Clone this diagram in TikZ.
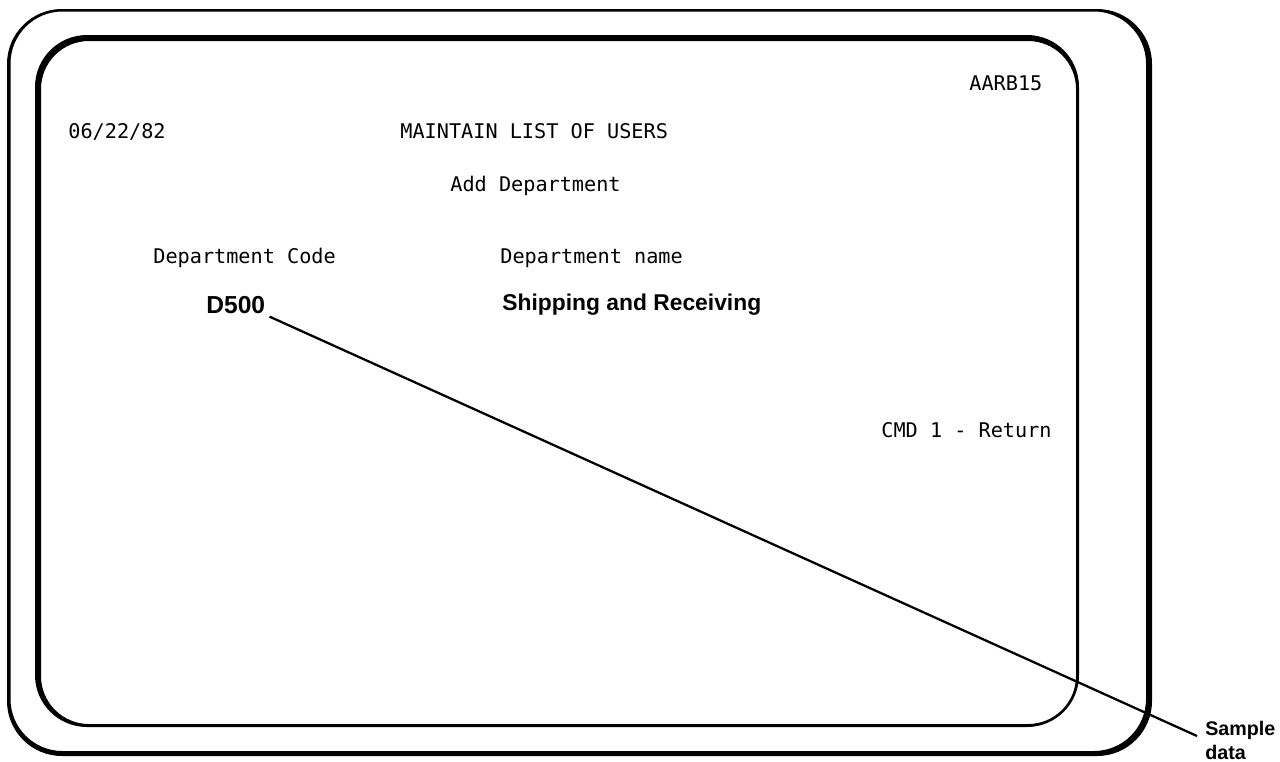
\documentclass[tikz,border=0pt]{standalone}
\usepackage{fontspec}
\setmonofont{DejaVu Sans Mono}
\setsansfont{Liberation Sans}
\begin{document}
\begin{tikzpicture}[x=0.02cm,y=-0.02cm,
  screen/.style={font=\ttfamily\fontsize{11.5}{14}\selectfont, inner sep=0pt, anchor=base west},
  datum/.style={font=\sffamily\bfseries\fontsize{13}{16}\selectfont, inner sep=0pt, anchor=base west},
  callout/.style={font=\sffamily\bfseries\fontsize{11.2}{14}\selectfont, inner sep=0pt, anchor=base west},
  leader/.style={line width=1.3pt}]
\useasboundingbox (0,0) rectangle (1280,761);
\fill[white] (0,0) rectangle (1280,761);
% terminal casing: ring between two rounded outlines, heavier at right and bottom
\fill[even odd rule] [rounded corners=1.1cm] (7,9) rectangle (1152,756)
  [rounded corners=1.04cm] (10.5,11.5) rectangle (1146,751);
% screen bezel: heavier at left and top
\fill[even odd rule] [rounded corners=1.04cm] (35,35) rectangle (1079,727)
  [rounded corners=0.96cm] (41,41) rectangle (1076,724);
% screen contents
\node[screen] (prog) at (969,90) {AARB15};
\node[screen] (date) at (68,138) {06/22/82};
\node[screen] (title) at (400,138) {MAINTAIN LIST OF USERS};
\node[screen] (mode) at (450,191) {Add Department};
\node[screen] (codehdr) at (153,263) {Department Code};
\node[screen] (namehdr) at (500,263) {Department name};
\node[datum, font=\sffamily\bfseries\fontsize{14}{16}\selectfont] (code) at (206,313) {D500};
\node[datum] (name) at (502,310) {Shipping and Receiving};
\node[screen] (cmd) at (881,437) {CMD 1 - Return};
% callout
\node[callout] (sample) at (1205,735) {Sample};
\node[callout] (data) at (1205,759) {data};
\draw[leader] ([shift={(4,3)}]code.south east) -- ([shift={(-8,1)}]sample.base west);
\end{tikzpicture}
\end{document}
